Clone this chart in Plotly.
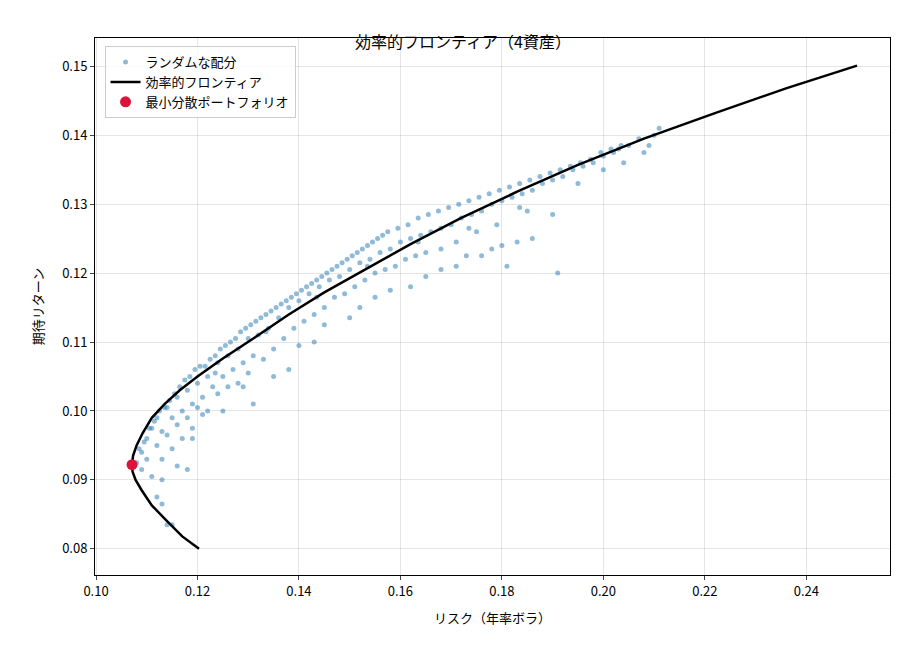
import plotly.graph_objects as go

front_x = [0.1203,0.117,0.114,0.111,0.1090,0.1078,0.1072,0.1071,0.1073,0.1080,0.1092,0.111,0.1135,0.1165,0.120,0.125,0.131,0.138,0.145,0.153,0.162,0.172,0.183,0.195,0.208,0.222,0.236,0.250]
front_y = [0.080,0.0818,0.0840,0.0863,0.0885,0.0900,0.0912,0.0922,0.0935,0.0950,0.0968,0.0990,0.1010,0.1030,0.1050,0.1076,0.1105,0.1140,0.1172,0.1205,0.1242,0.1280,0.1318,0.1357,0.1395,0.1432,0.1468,0.1501]

pts = [
(0.108,0.0925),(0.109,0.094),(0.109,0.0915),(0.110,0.096),(0.110,0.093),(0.111,0.0905),(0.111,0.0975),(0.112,0.095),(0.112,0.099),(0.113,0.097),
(0.113,0.093),(0.114,0.1005),(0.114,0.0965),(0.115,0.099),(0.115,0.0945),(0.116,0.102),(0.116,0.098),(0.117,0.1),(0.117,0.096),(0.118,0.103),
(0.118,0.099),(0.119,0.101),(0.119,0.0975),(0.120,0.104),(0.120,0.1005),(0.121,0.102),(0.122,0.105),(0.122,0.1),(0.123,0.1035),(0.124,0.107),
(0.124,0.1025),(0.125,0.105),(0.126,0.108),(0.126,0.1035),(0.127,0.106),(0.128,0.109),(0.128,0.104),(0.129,0.107),(0.130,0.1105),(0.130,0.1055),
(0.131,0.108),(0.132,0.111),(0.133,0.1075),(0.134,0.112),(0.135,0.109),(0.136,0.1135),(0.137,0.1105),(0.138,0.115),(0.139,0.112),(0.140,0.116),
(0.141,0.113),(0.142,0.117),(0.143,0.114),(0.144,0.118),(0.145,0.115),(0.146,0.119),(0.147,0.1165),(0.148,0.1195),(0.149,0.117),(0.150,0.1205),
(0.151,0.118),(0.152,0.1215),(0.153,0.119),(0.154,0.122),(0.155,0.12),(0.156,0.123),(0.157,0.1205),(0.158,0.1235),(0.159,0.121),(0.160,0.1245),
(0.161,0.122),(0.162,0.125),(0.163,0.1225),(0.164,0.1255),(0.165,0.123),(0.166,0.126),(0.168,0.1265),(0.168,0.1235),(0.170,0.127),(0.171,0.1245),
(0.172,0.128),(0.174,0.1285),(0.175,0.126),(0.176,0.129),(0.178,0.13),(0.179,0.127),(0.180,0.1305),(0.182,0.131),(0.184,0.1315),(0.185,0.129),
(0.186,0.132),(0.188,0.133),(0.190,0.1335),(0.192,0.134),(0.194,0.135),(0.196,0.1355),(0.198,0.136),(0.200,0.137),(0.202,0.1375),(0.203,0.138),
(0.205,0.1385),(0.207,0.1395),(0.209,0.1385),(0.210,0.14),(0.211,0.141),
(0.112,0.0875),(0.113,0.0865),(0.114,0.0835),(0.115,0.0835),(0.113,0.090),(0.116,0.092),(0.118,0.0915),(0.119,0.096),(0.121,0.0995),(0.125,0.1),
(0.129,0.1035),(0.131,0.101),(0.135,0.105),(0.138,0.106),(0.140,0.1095),(0.143,0.11),(0.145,0.1125),(0.150,0.1135),(0.152,0.115),(0.155,0.1165),
(0.158,0.1175),(0.162,0.118),(0.165,0.1195),(0.168,0.1205),(0.171,0.121),(0.173,0.1225),(0.176,0.1225),(0.178,0.1235),(0.180,0.124),(0.183,0.1245),
(0.186,0.125),(0.191,0.12),(0.190,0.1285),(0.195,0.133),(0.200,0.135),(0.204,0.136),(0.208,0.1375),(0.181,0.121),
(0.1085,0.0945),(0.1095,0.0955),(0.1105,0.0975),(0.1115,0.0985),(0.1125,0.1),(0.1135,0.1005),(0.1145,0.1015),(0.1155,0.1025),(0.1165,0.1035),(0.1175,0.1045),
(0.1185,0.105),(0.1195,0.106),(0.1205,0.1065),(0.1215,0.1065),(0.1225,0.1075),(0.1235,0.108),(0.1245,0.109),(0.1255,0.1095),(0.1265,0.110),(0.1275,0.1105),
(0.1285,0.1115),(0.1295,0.112),(0.1305,0.1125),(0.1315,0.113),(0.1325,0.1135),(0.1335,0.114),(0.1345,0.1145),(0.1355,0.115),(0.1365,0.1155),(0.1375,0.116),
(0.1385,0.1165),(0.1395,0.117),(0.1405,0.1175),(0.1415,0.118),(0.1425,0.1185),(0.1435,0.119),(0.1445,0.1195),(0.1455,0.120),(0.1465,0.1205),(0.1475,0.121),
(0.1485,0.1215),(0.1495,0.122),(0.1505,0.1225),(0.1515,0.123),(0.1525,0.1235),(0.1535,0.124),(0.1545,0.1245),(0.1555,0.125),(0.1565,0.1255),(0.1575,0.126),
(0.1595,0.1265),(0.1615,0.127),(0.1635,0.128),(0.1655,0.1285),(0.1675,0.129),(0.1695,0.1295),(0.1715,0.130),(0.1735,0.1305),(0.1755,0.131),(0.1775,0.1315),
(0.1795,0.132),(0.1815,0.1325),(0.1835,0.133),(0.1855,0.1335),(0.1875,0.134),(0.1895,0.1345),(0.1915,0.135),(0.1935,0.1355),(0.1955,0.136),(0.1975,0.1365),
(0.1995,0.1375),(0.2015,0.138),(0.2035,0.1385),(0.1235,0.1055),(0.1335,0.1115),(0.1435,0.1165),(0.1535,0.121),(0.1635,0.1245),(0.1735,0.1265),(0.1835,0.1295),
]
rand_x = [p[0] for p in pts]
rand_y = [p[1] for p in pts]
minvar_x = [0.1071]
minvar_y = [0.0922]

fig = go.Figure()
fig.add_trace(go.Scatter(x=rand_x, y=rand_y, mode="markers", name="ランダムな配分",
    marker=dict(color="#1f77b4", size=5, opacity=0.5, line=dict(width=0))))
fig.add_trace(go.Scatter(x=front_x, y=front_y, mode="lines", name="効率的フロンティア",
    line=dict(color="black", width=2.5)))
fig.add_trace(go.Scatter(x=minvar_x, y=minvar_y, mode="markers", name="最小分散ポートフォリオ",
    marker=dict(color="crimson", size=11)))

ax = dict(showline=True, linecolor="black", mirror=True, ticks="outside", ticklen=4,
          gridcolor="rgba(0,0,0,0.1)", zeroline=False, tickfont=dict(size=13, color="black"))
fig.update_layout(
    width=910, height=650, plot_bgcolor="white", paper_bgcolor="white",
    font=dict(family="Noto Sans CJK JP", color="black"),
    margin=dict(l=87, r=28, t=30, b=83),
    title=dict(text="効率的フロンティア（4資産）", x=0.5, xanchor="center", y=0.955, font=dict(size=16)),
    xaxis=dict(ax, range=[0.0998, 0.2565], dtick=0.02, tickformat=".2f",
               title=dict(text="リスク（年率ボラ）", font=dict(size=13))),
    yaxis=dict(ax, range=[0.0762, 0.1541], dtick=0.01, tickformat=".2f",
               title=dict(text="期待リターン", font=dict(size=13))),
    legend=dict(x=0.012, y=0.985, xanchor="left", yanchor="top", bordercolor="#cccccc",
                borderwidth=1, bgcolor="rgba(255,255,255,0.8)", font=dict(size=13)),
)
fig.write_html("out.html")
